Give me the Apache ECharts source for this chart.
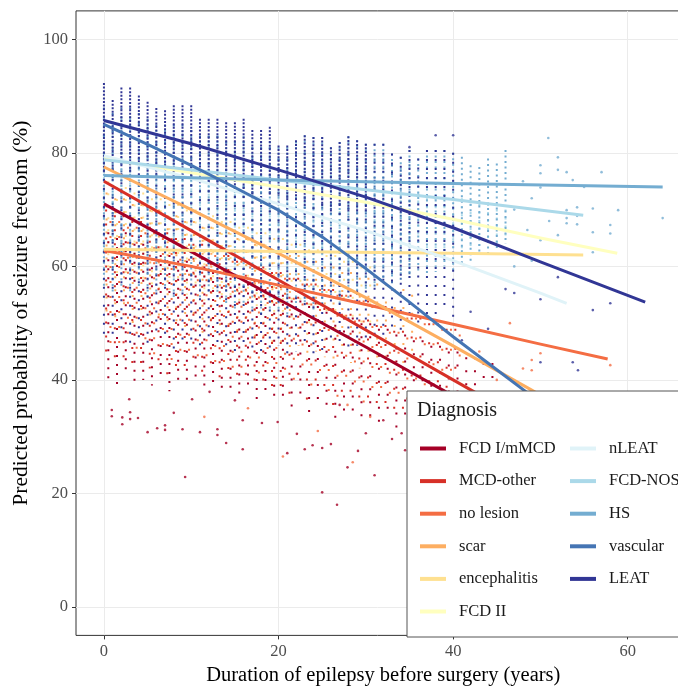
<!DOCTYPE html>
<html><head><meta charset="utf-8">
<script src="https://cdn.jsdelivr.net/npm/echarts@6/dist/echarts.min.js"></script>
<style>html,body{margin:0;padding:0;background:#fff}#c{width:678px;height:686px}</style>
</head><body><div id="c"></div>
<script>
// ---------- data ----------
const diagnosisNames = ['FCD I/mMCD','MCD-other','no lesion','scar','encephalitis','FCD II','nLEAT','FCD-NOS','HS','vascular','LEAT'];
const diagnosisColors = ['#A50026','#D73027','#F46D43','#FDAE61','#FEE090','#FFFFBF','#E0F3F8','#ABD9E9','#74ADD1','#4575B4','#313695'];

const lineFCDI = [[0,71],[10,62.6],[20,54.2],[30,45.8],[40,37.2],[45,32.8]];
const lineMCDother = [[0,75],[10,66.3],[20,57.6],[30,48.8],[40,40],[48,33]];
const lineNoLesion = [[0,62.8],[10,60],[20,56.7],[30,53.3],[40,49.8],[50,46.3],[57.7,43.7]];
const lineScar = [[0,77.5],[10,70],[20,62.3],[30,54.5],[40,46],[49,38.2],[52,35.5]];
const lineEncephalitis = [[0,63],[20,62.6],[40,62.3],[54.9,62]];
const lineFCDII = [[0,79],[10,76.5],[20,74],[30,71.3],[40,68.3],[50,65],[58.8,62.3]];
const lineNLEAT = [[0,79.5],[10,75.5],[20,71],[30,66.3],[40,61],[50,55.3],[53,53.5]];
const lineFCDNOS = [[0,78.8],[20,75.2],[40,71.8],[54.9,69]];
const lineHS = [[0,76],[20,75.2],[40,74.6],[64,74]];
const lineVascular = [[0,85],[5,81.5],[10,77.8],[15,73.9],[20,69.9],[25,65.2],[30,59.6],[35,53.7],[40,47.6],[45,41.8],[50,36]];
const lineLEAT = [[0,85.7],[10,81.6],[20,77],[30,72.2],[40,66.8],[50,60.8],[62,53.7]];
const diagnosisLines = [lineFCDI,lineMCDother,lineNoLesion,lineScar,lineEncephalitis,lineFCDII,lineNLEAT,lineFCDNOS,lineHS,lineVascular,lineLEAT];

// columns of dots (year, low, high)
const bandYears = [0,1,2,3,4,5,6,7,8,9,10,11,12,13,14,15,16,17,18,19,20,21,22,23,24,25,26,27,28,29,30,31,32,33,34,35,36,37,38,39,40,41,42,43,44,45,46];
const navyHi = [92.3,89.3,91.5,91.5,90.1,89.0,87.9,87.5,88.4,88.4,88.4,86.0,86.0,86.0,85.4,85.4,86.0,84.0,84.0,84.6,81.3,81.3,82.2,83.1,82.8,82.8,81.0,81.9,82.9,82.2,81.6];
const navyMid = [77,77,78,77,78,77,76,77,76,76,76,75,75,74,75,74,74,73,74,73,73,72,72,71,72,71,70,71,70,70,70];
const navySparseHi = [77,77,78,77,78,77,76,77,76,76,76,75,75,74,75,74,74,73,74,73,73,72,72,71,72,71,70,71,70,70,70,81.6,81.6,79.9,79.3,80.5,79,80.5,80.5,80.5,80];
const navySparseLo = [48,47,48,46,47,46,48,47,45,47,46,45,47,46,45,44,46,45,44,45,46,44,45,46,44,45,47,46,45,46,47,48,47,49,48,50,49,51,50,52,51];
const midBlueHi = [88,87,88,88,87,86,85,85,85,85,84,83,83,83,82,82,82,81,81,81,79,79,80,80,80,80,79,79,80,79,79,79,79,78,77,78];
const midBlueLo = [60,59,60,58,59,58,59,57,58,57,58,56,57,56,56,55,56,55,54,55,55,54,55,54,53,54,55,54,55,55,56,56,57,56,57,58];
const lightBlueHi = [86,85,86,86,85,85,84,84,84,84,84,83,83,83,82,82,83,82,82,82,81,81,82,83.1,82.8,82.8,81,81.9,82.9,82.2,81.6,81.6,81.6,79.9,79.3,80.5,79,80.5,80.5,80.5,80,79.3,77.8,77.5,79,78.1,80.5];
const lightBlueLo = [56,55,56,55,56,54,55,56,54,55,56,54,55,54,53,52,53,52,51,52,52,51,52,53,52,53,54,53,54,55,56,57,58,57,58,58,59,58,59,60,59,60,61,62,62,63,64];
const paleBlueHi = [80,80,80,79,79,79,79,78,78,78,78,78,77,77,77,77,77,76,76,76,76,76,75,75,75,75,75,74,74,74,74,74,74,73,73,73,73,72,72,72,72,72,71,71,71,70,70];
const paleBlueLo = [62,61,62,61,62,61,62,61,61,61,61,60,60,60,60,60,60,59,59,59,59,59,59,59,59,59,59,59,59,59,60,60,60,60,61,61,61,61,62,62,62,63,63,63,64,64,65];
const darkRedHi = [66,65,66,64,64,63,62,62,61,61,60,60,59,58,58,57,57,56,56,55,55,54,54,53,53,52,52,51,51,50,50,49,49,48,48,47,47,46,46,45,45,44,44,43,43];
const darkRedLo = [40,39,41,39,40,39,40,38,40,39,40,38,39,38,38,37,38,36,37,36,36,35,36,34,35,34,33,34,33,32,33,32,33,31,32,33,34,34,35,36,37,38,38,39,40];
const redHi = [70,69,69,68,68,67,66,66,65,65,64,64,63,63,62,61,61,60,60,59,59,58,58,57,57,56,56,55,55,54,54,53,53,52,52,51,51,50,50,49,49];
const redLo = [44,43,44,42,43,42,43,41,42,41,42,40,41,40,40,39,40,38,39,38,38,37,38,36,37,36,35,36,35,34,35,34,35,33,34,35,36,36,37,38,39];
const orangeHi = [68,68,67,67,66,66,65,65,64,64,63,63,62,62,61,61,60,60,59,59,58,58,57,57,56,56,55,55,54,54,53,53,52,52,51,51,50,50,49,49,48];
const orangeLo = [46,45,46,44,45,44,45,43,44,43,44,42,43,42,42,41,42,40,41,40,40,39,40,38,39,38,37,38,37,36,37,36,37,35,36,37,38,38,39,40,41];
const lightOrangeHi = [73,72,72,71,71,70,70,69,69,68,68,67,67,66,66,65,65,64,64,63,63,62,62,61,61,60,60,59,59,58,58,57,57,56,56,55];
const lightOrangeLo = [52,51,52,50,51,50,51,49,50,49,50,48,49,48,48,47,48,46,47,46,46,45,46,44,45,44,43,44,43,42,43,42,43,41,42,43];
const yellowHi = [75,74,74,73,73,72,72,71,71,70,70,69,69,68,68,67,67,66,66,65,65,64,64,63,63,62,62,61,61,60,60];
const yellowLo = [58,57,58,56,57,56,57,55,56,55,56,54,55,54,54,53,54,52,53,52,52,51,52,50,51,50,49,50,49,48,49];
const sparseFromYear = 21; // dots thin out after this duration

// isolated points
const ptsDarkRed = [[0.9,34.7],[0.9,33.6],[2.1,33.4],[2.1,32.2],[3,34.3],[3,33.1],[3.9,33.3],[5,30.8],[6.1,31.5],[7,32],[7,31.2],[8,34.2],[9,31.3],[9.3,22.9],[10.1,36.6],[11,30.8],[12.1,37.9],[13,30.3],[13,31.3],[14,28.9],[15,36.4],[15.9,27.8],[15.9,32.9],[18.1,32.4],[19.9,32.6],[21,27.1],[22.1,30.5],[23,27.8],[23.9,28.5],[25,28],[25,20.2],[26,28.7],[26.7,18],[27,35.6],[27.9,24.6],[29.1,27.5],[30,30.6],[31,23.2],[32,32.9],[33,29.6],[34.1,30.6],[34.5,27.6],[2.9,36.6]];
const ptsOrange = [[11.5,33.5],[16.5,35],[20.5,26.5],[24.5,31],[28.5,25.5],[30.5,33.5],[27.9,35.6],[46.5,50],[48,42],[49,43.5],[49,41.7],[50,44.7],[58,42.6],[43,45],[45,40]];
const ptsNavy = [[38,83.1],[40,83.1],[35,81],[58,53.5],[56,52.3],[54.3,41.7],[53.7,43.1],[50,54.2],[47,55.3],[52,58.1],[50,43.1],[42,52],[44,49],[41,47],[46,56]];
const ptsLightBlue = [[64,68.5],[58.9,69.9],[58,67.3],[58,65.8],[56,70.2],[56,66],[56,62.5],[57,76.6],[53.7,75.2],[53,76.6],[52,79.2],[52,77],[50,77.8],[50,76.4],[50,73.9],[50.9,82.6],[48.5,66.4],[54.2,70.4],[54.2,68.9],[54.2,67.4],[53,69.9],[53,68.5],[53,67.6],[52,65.5],[50,64.6],[47,70],[48,75],[49,72],[51,68],[55,74],[47,60],[49,61]];

const xTickValues = [0,20,40,60];
const yTickValues = [0,20,40,60,80,100];

// ---------- chart ----------
const FONT = '"Liberation Serif", "Times New Roman", serif';
function zipRows(lo, hi) {
  const rows = [];
  for (let i = 0; i < lo.length && i < hi.length; i++) rows.push([bandYears[i], lo[i], hi[i]]);
  return rows;
}
const early = rows => rows.filter(r => r[0] < sparseFromYear);
const late = rows => rows.filter(r => r[0] >= sparseFromYear);
function columnSeries(color, rows, dash, shift, width) {
  return {
    type: 'custom', silent: true, z: 2, clip: true, data: rows,
    encode: {x: 0, y: [1, 2]},
    renderItem(params, api) {
      const x = api.value(0) + shift;
      const a = api.coord([x, api.value(2)]);
      const b = api.coord([x, api.value(1)]);
      return {type: 'line', shape: {x1: a[0], y1: a[1], x2: b[0], y2: b[1]},
        style: {stroke: color, lineWidth: width, lineDash: dash, fill: null}};
    }
  };
}
function pointSeries(color, pts) {
  return {type: 'scatter', silent: true, z: 2, data: pts, symbol: 'circle', symbolSize: 2.6,
    itemStyle: {color: color}};
}

const series = [
  columnSeries('#ABD9E9', zipRows(paleBlueLo, paleBlueHi), [2, 6], 0, 2),
  columnSeries('#74ADD1', zipRows(lightBlueLo, lightBlueHi), [2, 3.5], 0, 2),
  columnSeries('#4575B4', zipRows(midBlueLo, midBlueHi), [2, 7], 0, 2),
  columnSeries('#313695', zipRows(navySparseLo, navySparseHi), [2, 7], 0, 2),
  columnSeries('#313695', zipRows(navyMid, navyHi), [2, 1.6], 0, 2),
  columnSeries('#FEE090', early(zipRows(yellowLo, yellowHi)), [2, 10], 0.5, 2),
  columnSeries('#FEE090', late(zipRows(yellowLo, yellowHi)), [2, 16], 0.5, 2),
  columnSeries('#FDAE61', early(zipRows(lightOrangeLo, lightOrangeHi)), [2, 11], 0.3, 2),
  columnSeries('#FDAE61', late(zipRows(lightOrangeLo, lightOrangeHi)), [2, 16], 0.3, 2),
  columnSeries('#F46D43', early(zipRows(orangeLo, orangeHi)), [2, 13], 0.75, 2),
  columnSeries('#F46D43', late(zipRows(orangeLo, orangeHi)), [2, 18], 0.75, 2),
  columnSeries('#D73027', early(zipRows(redLo, redHi)), [2, 12], 0.25, 2),
  columnSeries('#D73027', late(zipRows(redLo, redHi)), [2, 17], 0.25, 2),
  columnSeries('#A50026', early(zipRows(darkRedLo, darkRedHi)), [2, 7], 0.5, 2),
  columnSeries('#A50026', late(zipRows(darkRedLo, darkRedHi)), [2, 11], 0.5, 2),
  pointSeries('#A50026', ptsDarkRed),
  pointSeries('#F46D43', ptsOrange),
  pointSeries('#313695', ptsNavy),
  pointSeries('#74ADD1', ptsLightBlue)
];
diagnosisNames.forEach((name, i) => {
  series.push({
    type: 'line', name: name, data: diagnosisLines[i], z: 5, clip: true,
    smooth: false, symbol: 'none', showSymbol: false,
    color: diagnosisColors[i],
    itemStyle: {color: diagnosisColors[i]},
    lineStyle: {color: diagnosisColors[i], width: 3, cap: 'butt', join: 'round'}
  });
});

const legendBase = {
  orient: 'vertical', top: 438.5, padding: 0, itemWidth: 26, itemHeight: 4, itemGap: 12.6,
  icon: 'rect', selectedMode: false, z: 110,
  textStyle: {fontFamily: FONT, fontSize: 16.5, color: '#1a1a1a', lineHeight: 20, padding: [0, 0, 0, 8]}
};

const option = {
  animation: false,
  textStyle: {fontFamily: FONT},
  grid: {left: 76, top: 10.9, width: 614.6, height: 624.5, show: true, borderColor: '#333', borderWidth: 1,
    backgroundColor: 'transparent', containLabel: false, outerBoundsMode: 'none'},
  xAxis: {
    type: 'value', min: -3.2, max: 67.2, splitNumber: 7,
    axisLine: {show: false, onZero: false},
    axisTick: {show: true, length: 4, lineStyle: {color: '#333'}, customValues: xTickValues},
    axisLabel: {customValues: xTickValues, fontFamily: FONT, fontSize: 16.5, color: '#4D4D4D', margin: 8},
    splitLine: {show: true, lineStyle: {color: '#EBEBEB', width: 1}},
    name: 'Duration of epilepsy before surgery (years)', nameLocation: 'middle', nameGap: 30,
    nameTextStyle: {fontFamily: FONT, fontSize: 20.5, color: '#000'}
  },
  yAxis: {
    type: 'value', min: -5, max: 105, splitNumber: 11,
    axisLine: {show: false, onZero: false},
    axisTick: {show: true, length: 4, lineStyle: {color: '#333'}, customValues: yTickValues},
    axisLabel: {customValues: yTickValues, fontFamily: FONT, fontSize: 16.5, color: '#4D4D4D', margin: 8},
    splitLine: {show: true, lineStyle: {color: '#EBEBEB', width: 1}},
    name: 'Predicted probability of seizure freedom (%)', nameLocation: 'middle', nameGap: 40,
    nameTextStyle: {fontFamily: FONT, fontSize: 21.5, color: '#000', padding: [0, 0, 0, 20]}
  },
  legend: [
    Object.assign({}, legendBase, {left: 420, data: diagnosisNames.slice(0, 6)}),
    Object.assign({}, legendBase, {left: 570, data: diagnosisNames.slice(6)})
  ],
  graphic: [
    {type: 'rect', left: 406.5, top: 390.5, z: 100, shape: {width: 320, height: 246},
      style: {fill: '#fff', stroke: '#555', lineWidth: 1}},
    {type: 'text', left: 417, top: 401, z: 101,
      style: {text: 'Diagnosis', font: '20px "Liberation Serif"', fill: '#1a1a1a'}}
  ],
  series: series
};
const chart = echarts.init(document.getElementById('c'), null, {renderer: 'canvas'});
chart.setOption(option);
</script>
</body></html>
